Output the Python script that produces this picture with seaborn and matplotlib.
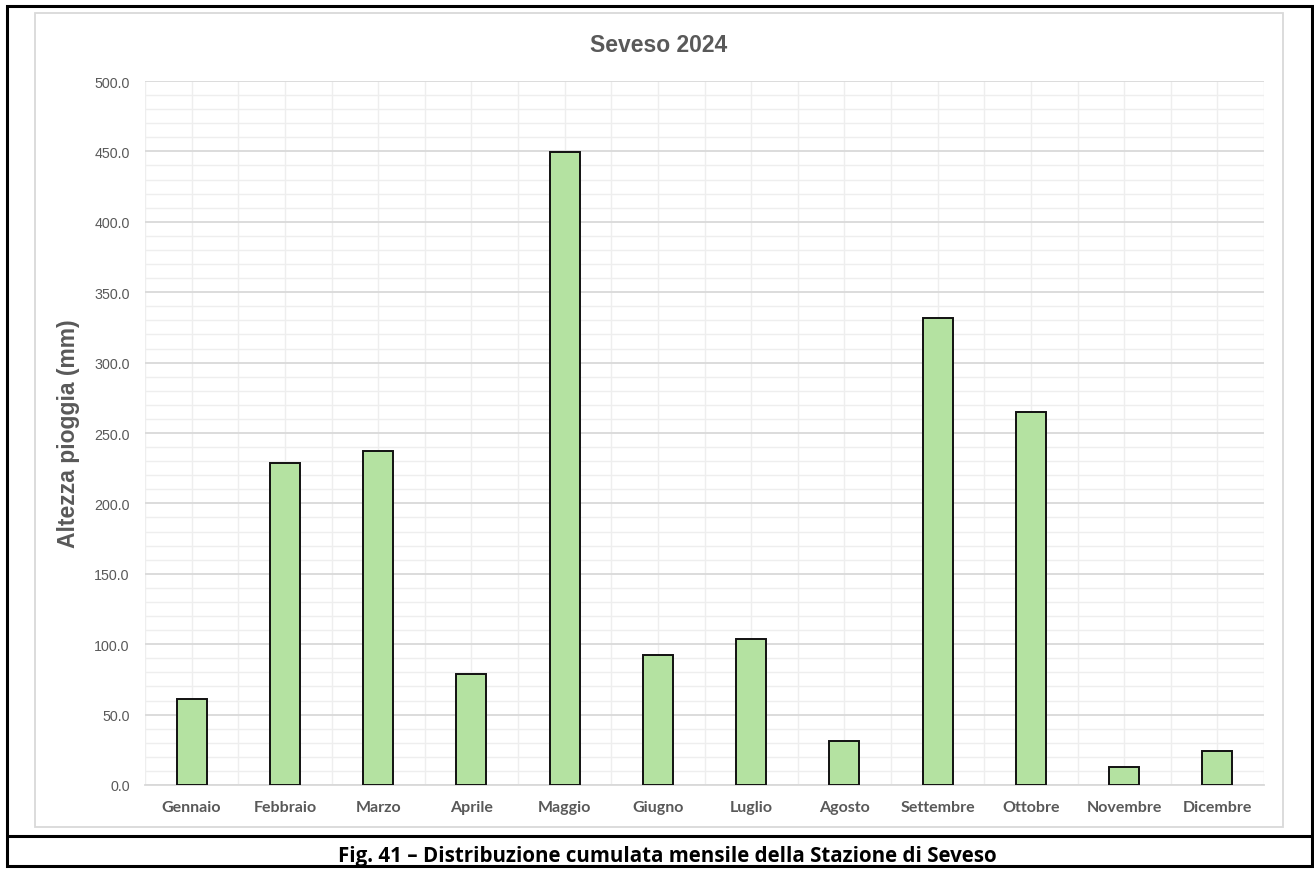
import matplotlib
matplotlib.use("Agg")
import matplotlib.pyplot as plt
import seaborn as sns
import pandas as pd
from matplotlib.ticker import MultipleLocator, FixedLocator
from matplotlib.patches import Rectangle
from matplotlib.lines import Line2D

months = ["Gennaio", "Febbraio", "Marzo", "Aprile", "Maggio", "Giugno",
          "Luglio", "Agosto", "Settembre", "Ottobre", "Novembre", "Dicembre"]
rain_mm = [61.1, 228.7, 237.2, 78.8, 449.4, 92.3, 103.7, 31.2, 331.7, 265.1, 12.8, 24.1]
y_ticks = [0, 50, 100, 150, 200, 250, 300, 350, 400, 450, 500]

title = "Seveso 2024"
y_label = "Altezza pioggia (mm)"
caption = "Fig. 41 \u2013 Distribuzione cumulata mensile della Stazione di Seveso"

sns.set_style("white")
plt.rcParams["font.family"] = ["Liberation Sans", "DejaVu Sans"]

W, H = 1314, 870
fig = plt.figure(figsize=(W / 100, H / 100), dpi=100)
fig.patch.set_facecolor("white")

def fx(x):
    return x / W

def fy(y):
    return 1 - y / H

left, right, top, bottom = 145, 1264, 82, 786
ax = fig.add_axes([fx(left), fy(bottom), fx(right - left), (bottom - top) / H])

df = pd.DataFrame({"Mese": months, "Pioggia": rain_mm})
sns.barplot(data=df, x="Mese", y="Pioggia", color="#b4e2a1", saturation=1,
            edgecolor="#111111", linewidth=1.4, width=0.32, ax=ax, zorder=3)

ax.set_ylim(0, 500)
ax.set_xlim(-0.5, len(months) - 0.5)
ax.set_yticks(y_ticks)
ax.set_yticklabels([f"{v:.1f}" for v in y_ticks])
ax.yaxis.set_minor_locator(MultipleLocator(10))
ax.xaxis.set_minor_locator(FixedLocator([i - 0.5 for i in range(len(months) + 1)]))

ax.set_axisbelow(True)
ax.grid(axis="y", which="major", color="#d9d9d9", linewidth=1.3)
ax.grid(axis="y", which="minor", color="#eeeeee", linewidth=1.0)
ax.grid(axis="x", which="both", color="#eeeeee", linewidth=1.0)

for s in ["left", "right", "top"]:
    ax.spines[s].set_visible(False)
ax.spines["bottom"].set_color("#d9d9d9")
ax.spines["bottom"].set_linewidth(1.3)

ax.tick_params(axis="both", which="both", length=0)
ax.tick_params(axis="y", labelsize=10.3, labelcolor="#595959", pad=11)
ax.tick_params(axis="x", labelsize=11.5, labelcolor="#595959", pad=11)
for lab in ax.get_xticklabels():
    lab.set_fontweight("bold")
    lab.set_family(["Lato", "DejaVu Sans"])

ax.set_xlabel("")
ax.set_ylabel("")

fig.text(fx(659), fy(45), title, ha="center", va="center", fontsize=16.5,
         fontweight="bold", color="#595959")
fig.text(fx(68), fy(434), y_label, ha="center", va="center", rotation=90,
         fontsize=16.5, fontweight="bold", color="#595959")
fig.text(fx(667), fy(862), caption, ha="center", va="baseline", fontsize=14.8,
         fontweight="bold", color="black", family=["Open Sans", "DejaVu Sans"])

# Chart area border (light gray)
fig.add_artist(Rectangle((fx(35), fy(828)), fx(1283 - 35), (828 - 14) / H,
                         transform=fig.transFigure, fill=False,
                         edgecolor="#d9d9d9", linewidth=1.3))
# Outer black frame
fig.add_artist(Rectangle((fx(7), fy(867)), fx(1312 - 7), (867 - 7) / H,
                         transform=fig.transFigure, fill=False,
                         edgecolor="black", linewidth=2.2))
# Separator line above caption
fig.add_artist(Line2D([fx(7), fx(1312)], [fy(837), fy(837)],
                      transform=fig.transFigure, color="black", linewidth=2.2))

fig.savefig("out.png", dpi=100, facecolor="white")
